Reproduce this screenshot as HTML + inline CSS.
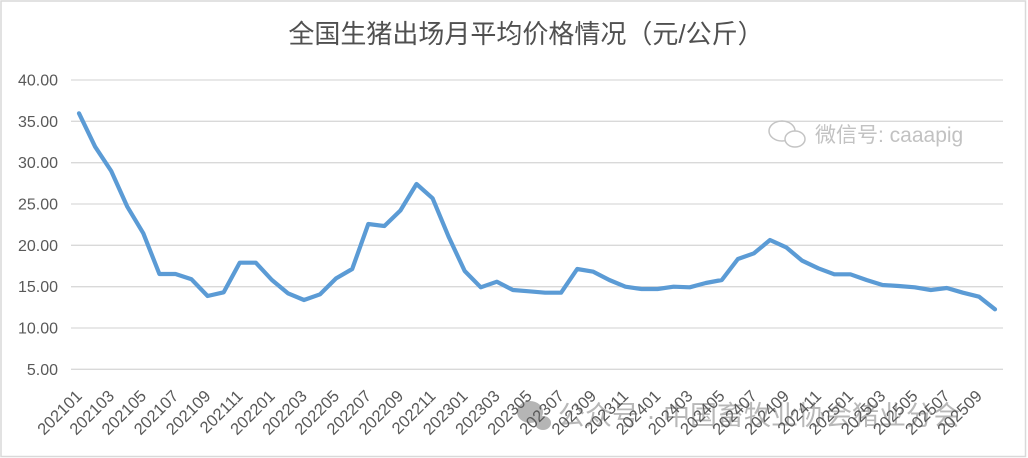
<!DOCTYPE html>
<html><head><meta charset="utf-8"><style>
html,body{margin:0;padding:0;background:#fff;}
svg{display:block;}
</style></head><body>
<svg width="1028" height="458" viewBox="0 0 1028 458" xmlns="http://www.w3.org/2000/svg">
<rect x="0" y="0" width="1028" height="458" fill="#fff"/>
<rect x="1" y="1" width="1024.5" height="455.5" fill="none" stroke="#d9d9d9" stroke-width="1.5"/>
<text x="526" y="43" text-anchor="middle" font-family="'Liberation Sans','Noto Sans CJK SC',sans-serif" font-size="26" fill="#505050">全国生猪出场月平均价格情况（元/公斤）</text>
<g stroke="#d9d9d9" stroke-width="1.3">
<line x1="71" y1="80" x2="1003" y2="80"/>
<line x1="71" y1="121.3" x2="1003" y2="121.3"/>
<line x1="71" y1="162.7" x2="1003" y2="162.7"/>
<line x1="71" y1="204" x2="1003" y2="204"/>
<line x1="71" y1="245.3" x2="1003" y2="245.3"/>
<line x1="71" y1="286.7" x2="1003" y2="286.7"/>
<line x1="71" y1="328" x2="1003" y2="328"/>
<line x1="71" y1="369.3" x2="1003" y2="369.3"/>
</g>
<g font-family="'Liberation Sans',sans-serif" font-size="16" fill="#595959" text-anchor="end">
<text x="58" y="85.5">40.00</text>
<text x="58" y="126.8">35.00</text>
<text x="58" y="168.2">30.00</text>
<text x="58" y="209.5">25.00</text>
<text x="58" y="250.8">20.00</text>
<text x="58" y="292.2">15.00</text>
<text x="58" y="333.5">10.00</text>
<text x="58" y="374.8">5.00</text>
</g>
<!-- watermarks -->
<g fill="none" stroke="#c4c4c4" stroke-width="1.5">
<ellipse cx="782" cy="131" rx="13" ry="10"/>
<ellipse cx="795" cy="139" rx="10" ry="8" fill="#fff"/>
</g>
<text x="815" y="142" font-family="'Liberation Sans','Noto Sans CJK SC',sans-serif" font-size="21" fill="#c2c2c2">微信号: caaapig</text>
<g fill="#b5b5b5">
<ellipse cx="530" cy="412" rx="13" ry="11"/>
<ellipse cx="543" cy="423" rx="8" ry="7"/>
</g>
<text x="558" y="425" font-family="'Liberation Sans','Noto Sans CJK SC',sans-serif" font-size="27" fill="#b8b8b8">公众号 · 中国畜牧业协会猪业分会</text>
<g font-family="'Liberation Sans',sans-serif" font-size="16.5" fill="#595959" text-anchor="end">
<text transform="translate(83,397) rotate(-45)">202101</text>
<text transform="translate(115.2,397) rotate(-45)">202103</text>
<text transform="translate(147.3,397) rotate(-45)">202105</text>
<text transform="translate(179.5,397) rotate(-45)">202107</text>
<text transform="translate(211.6,397) rotate(-45)">202109</text>
<text transform="translate(243.7,397) rotate(-45)">202111</text>
<text transform="translate(275.9,397) rotate(-45)">202201</text>
<text transform="translate(308,397) rotate(-45)">202203</text>
<text transform="translate(340.2,397) rotate(-45)">202205</text>
<text transform="translate(372.3,397) rotate(-45)">202207</text>
<text transform="translate(404.4,397) rotate(-45)">202209</text>
<text transform="translate(436.6,397) rotate(-45)">202211</text>
<text transform="translate(468.7,397) rotate(-45)">202301</text>
<text transform="translate(500.9,397) rotate(-45)">202303</text>
<text transform="translate(533,397) rotate(-45)">202305</text>
<text transform="translate(565.1,397) rotate(-45)">202307</text>
<text transform="translate(597.3,397) rotate(-45)">202309</text>
<text transform="translate(629.4,397) rotate(-45)">202311</text>
<text transform="translate(661.6,397) rotate(-45)">202401</text>
<text transform="translate(693.7,397) rotate(-45)">202403</text>
<text transform="translate(725.8,397) rotate(-45)">202405</text>
<text transform="translate(758,397) rotate(-45)">202407</text>
<text transform="translate(790.1,397) rotate(-45)">202409</text>
<text transform="translate(822.3,397) rotate(-45)">202411</text>
<text transform="translate(854.4,397) rotate(-45)">202501</text>
<text transform="translate(886.5,397) rotate(-45)">202503</text>
<text transform="translate(918.7,397) rotate(-45)">202505</text>
<text transform="translate(950.8,397) rotate(-45)">202507</text>
<text transform="translate(983,397) rotate(-45)">202509</text>
</g>
<polyline fill="none" stroke="#5b9bd5" stroke-width="4.2" stroke-linejoin="round" stroke-linecap="round" points="
79.0,113.3 95.1,146.7 111.2,171 127.3,206.7 143.3,233.3 159.4,274 175.5,274 191.5,279.3 207.6,296 223.7,292.3
239.7,262.7 255.8,262.7 271.9,280 287.9,293.3 304.0,300 320.1,294.3 336.2,278.3 352.2,269 368.3,224 384.4,226
400.4,210.5 416.5,184 432.6,198.3 448.6,236.7 464.7,271 480.8,287.3 496.9,281.7 512.9,290 529.0,291.3 545.1,292.7
561.1,292.7 577.2,269 593.3,271.7 609.3,280 625.4,286.7 641.5,289 657.6,289 673.6,286.7 689.7,287.3 705.8,283
721.8,280 737.9,259 754.0,253.3 770.0,240 786.1,247.3 802.2,260.7 818.3,268.3 834.3,274.3 850.4,274.3 866.5,280
882.5,285 898.6,286 914.7,287.3 930.8,290 946.8,288 962.9,292.7 979.0,296.7 995.0,309.3"/>
</svg>
</body></html>
